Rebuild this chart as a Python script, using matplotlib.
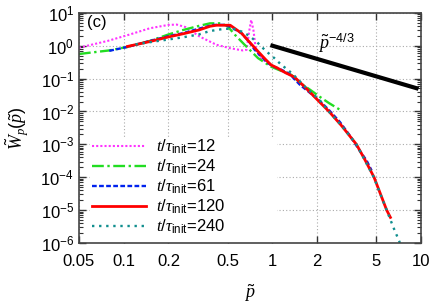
import matplotlib
matplotlib.use("Agg")
import matplotlib.pyplot as plt
from matplotlib.patches import Rectangle
from matplotlib.ticker import FixedLocator, LogLocator, LogFormatterMathtext, NullLocator

plt.rcParams['font.family'] = ['Liberation Sans', 'DejaVu Sans']
plt.rcParams['mathtext.fontset'] = 'custom'
plt.rcParams['mathtext.rm'] = 'Liberation Sans'
plt.rcParams['mathtext.sf'] = 'Liberation Sans'
plt.rcParams['mathtext.it'] = 'Liberation Serif:italic'

# t/tau_init = 12
p12 = [0.05, 0.078, 0.11, 0.15, 0.2, 0.227, 0.26, 0.324, 0.42, 0.52, 0.63, 0.67,
       0.70, 0.72, 0.745, 0.77, 0.82, 0.9, 1.0, 1.15, 1.3, 1.4]
w12 = [0.87, 1.4, 2.2, 3.4, 4.3, 4.4, 3.7, 1.9, 1.07, 0.84, 0.72, 0.75,
       3.0, 6.1, 3.0, 0.9, 0.45, 0.33, 0.24, 0.17, 0.13, 0.115]

# t/tau_init = 24
p24 = [0.05, 0.08, 0.106, 0.15, 0.2, 0.25, 0.32, 0.38, 0.45, 0.5, 0.56, 0.65,
       0.8, 0.98, 1.15, 1.34, 1.53, 1.8, 2.08, 2.4, 2.84]
w24 = [0.56, 0.72, 0.92, 1.4, 2.2, 3.0, 4.0, 4.8, 4.8, 3.9, 2.14, 1.07,
       0.42, 0.23, 0.17, 0.13, 0.075, 0.045, 0.028, 0.018, 0.0113]

# t/tau_init = 61
p61 = [0.08, 0.106, 0.15, 0.2, 0.25, 0.32, 0.4, 0.48, 0.52, 0.62, 0.7, 0.76,
       0.85, 0.93, 1.0, 1.15, 1.3, 1.53, 1.8, 2.08, 2.4, 2.84, 3.3, 3.9, 4.3, 4.64]
w61 = [0.7, 0.92, 1.4, 1.95, 2.4, 3.3, 4.3, 4.3, 3.8, 2.4, 1.3, 0.75,
       0.45, 0.30, 0.24, 0.185, 0.14, 0.065, 0.036, 0.021, 0.011, 0.0048,
       0.0019, 6e-4, 3.2e-4, 1.6e-4]

# t/tau_init = 120
p120 = [0.106, 0.15, 0.2, 0.25, 0.32, 0.38, 0.42, 0.52, 0.62, 0.7, 0.8, 0.9,
        0.98, 1.08, 1.21, 1.41, 1.69, 2.0, 2.4, 2.9, 3.67, 4.2, 4.82, 5.86, 6.21]
w120 = [0.95, 1.34, 1.85, 2.3, 3.0, 3.9, 4.2, 4.2, 2.4, 1.3, 0.67, 0.38,
        0.26, 0.21, 0.155, 0.11, 0.05, 0.023, 0.01, 0.0038, 0.001, 3.3e-4,
        1e-4, 1e-5, 6e-6]

# t/tau_init = 240
p240 = [0.12, 0.15, 0.2, 0.25, 0.32, 0.38, 0.48, 0.56, 0.62, 0.7, 0.8, 0.9,
        1.03, 1.15, 1.27, 1.41, 1.69, 2.08, 2.4, 2.9, 3.67, 4.8, 5.86, 6.5, 7.2, 7.6]
w240 = [1.1, 1.28, 1.55, 1.8, 2.2, 2.8, 3.3, 3.2, 2.7, 2.0, 1.2, 0.7,
        0.42, 0.26, 0.185, 0.12, 0.052, 0.022, 0.0098, 0.0038, 0.001, 1e-4,
        1e-5, 3e-6, 1e-6, 5e-7]

# reference slope p^-4/3
p_ref = [1.0, 9.3]
w_ref = [1.0, 0.051]

xticks = [0.05, 0.1, 0.2, 0.5, 1, 2, 5, 10]
xlabels = ['0.05', '0.1', '0.2', '0.5', '1', '2', '5', '10']

fig = plt.figure(figsize=(4.36, 3.06), dpi=100)
ax = fig.add_axes([0.181, 0.206, 0.785, 0.752])

lab = r'$t/\tau_{\rm init}$='
ax.plot(p12, w12, color='#ff33ff', ls=(0, (1, 1)), lw=1.5, label=lab + '12')
ax.plot(p24, w24, color='#22dd22', ls=(0, (5, 1.5, 1, 1.5)), lw=1.7, label=lab + '24')
ax.plot(p61, w61, color='#0022ee', ls=(0, (2, 1)), lw=1.7, label=lab + '61')
ax.plot(p120, w120, color='#ff0000', ls='-', lw=2.0, label=lab + '120')
ax.plot(p240, w240, color='#108e8e', ls=(0, (1, 2)), lw=1.7, label=lab + '240')
ax.plot(p_ref, w_ref, color='black', lw=3)

ax.set_xscale('log')
ax.set_yscale('log')
ax.set_xlim(0.05, 10)
ax.set_ylim(1e-6, 10)

ax.xaxis.set_major_locator(FixedLocator(xticks))
ax.set_xticklabels(xlabels)
ax.xaxis.set_minor_locator(NullLocator())
ax.yaxis.set_major_locator(LogLocator(base=10, numticks=20))
ax.yaxis.set_major_formatter(LogFormatterMathtext())
ax.yaxis.set_minor_locator(LogLocator(base=10, subs=range(2, 10), numticks=20))

ax.tick_params(which='both', direction='in', top=True, right=True, labelsize=12, color='#333333')
ax.tick_params(which='major', length=5, width=1)
ax.tick_params(which='minor', length=3, width=0.8)
ax.tick_params(axis='x', pad=8)
for s in ax.spines.values():
    s.set_color('#444444')
    s.set_linewidth(1.2)

ax.grid(True, which='major', ls=(0, (1, 2)), color='#aaaaaa', lw=0.8)
ax.set_axisbelow(True)

# white area behind the key hides the grid there
ax.add_patch(Rectangle((0.032, 0.0), 0.547, 0.461, transform=ax.transAxes,
                       facecolor='white', edgecolor='none', zorder=1.5))

ax.text(0.057, 5.0, '(c)', fontsize=12, va='center')
ax.text(2.7, 1.15, r'$\tilde{p}^{-4/3}$', fontsize=13, ha='center', va='center')

ax.set_xlabel(r'$\tilde{p}$', fontsize=13, labelpad=10)
ax.set_ylabel(r'$\tilde{W}_p(\tilde{p})$', fontsize=13, labelpad=7)

leg = ax.legend(loc='lower left', bbox_to_anchor=(0.02, 0.0), fontsize=12,
                frameon=False, handlelength=3.2, handletextpad=0.6,
                labelspacing=0.1, borderpad=0.3, borderaxespad=0.1)

fig.savefig('out.png', dpi=100)
